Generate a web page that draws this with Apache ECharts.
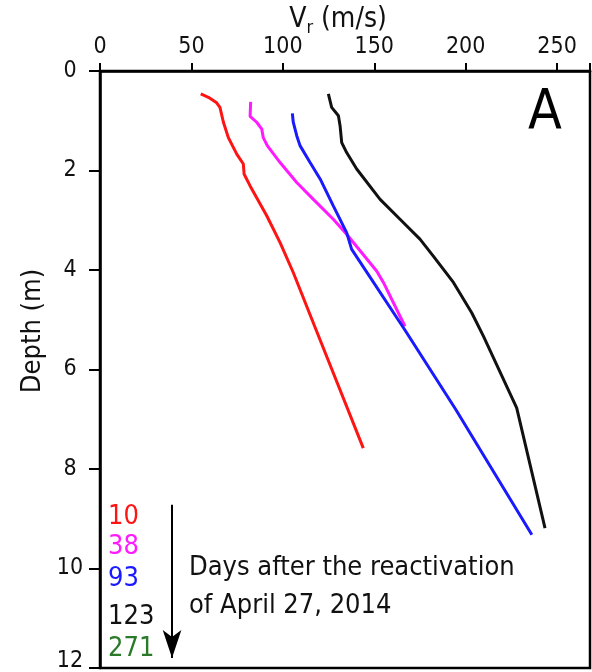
<!DOCTYPE html>
<html>
<head>
<meta charset="utf-8">
<script src="https://cdn.jsdelivr.net/npm/echarts@6/dist/echarts.min.js"></script>
<style>
html,body{margin:0;padding:0;background:#fff;}
#c{width:592px;height:672px;}
</style>
</head>
<body>
<div id="c"></div>
<script>
// Data: [velocity (m/s), depth (m)]
var red10 = [[55.1,0.46],[59.3,0.53],[63.8,0.64],[65.6,0.73],[67.5,1.03],[70.2,1.34],[74.8,1.67],[78.4,1.87],[78.8,2.07],[82.1,2.31],[91.2,2.91],[98.5,3.45],[105.7,4.05],[117.4,5.13],[144,7.58]];
var magenta38 = [[82.4,0.62],[82.1,0.91],[85.7,1.03],[88.5,1.17],[89.3,1.34],[91.5,1.50],[98.5,1.84],[107.6,2.24],[116.7,2.58],[127.6,2.98],[134.9,3.28],[151.3,4.02],[155,4.25],[166.8,5.13]];
var blue93 = [[105.2,0.85],[105.7,1.03],[107.6,1.30],[109.4,1.50],[114.9,1.84],[120.4,2.17],[127.6,2.71],[134.9,3.25],[137.6,3.58],[166.5,5.19],[194.5,6.80],[236.2,9.32]];
var black123 = [[124.9,0.46],[126.7,0.73],[130.4,0.90],[131.3,1.10],[132.2,1.44],[134.9,1.64],[140.4,1.97],[153.2,2.58],[164.1,2.98],[175,3.38],[182.3,3.72],[193.3,4.25],[203.3,4.86],[209.7,5.33],[227.9,6.77],[243.4,9.19]];
var xTicks = [0,50,100,150,200,250];
var yTicks = [0,2,4,6,8,10,12];
var legendDays = ['10','38','93','123','271'];
var legendColors = ['#ff1414','#ff1aff','#1a1aff','#111111','#2a7a2a'];
var arrowLine = [[39.4,8.72],[39.4,11.8]];
var annotation = ['Days after the reactivation','of April 27, 2014'];

var FONT = 'DejaVu Sans Condensed';
var chart = echarts.init(document.getElementById('c'));

function lineSeries(data, color){
  return {type:'line', data:data, showSymbol:false, symbol:'none', smooth:false,
    lineStyle:{color:color, width:3}, itemStyle:{color:color}, z:3, silent:true, animation:false};
}

var legendGraphics = legendDays.map(function(t,i){
  var ys = [517,547,579,617,649];
  return {type:'text', x:108, y:ys[i], style:{text:t, fill:legendColors[i], font:'27px "'+FONT+'"', textVerticalAlign:'middle'}};
});

var option = {
  animation:false,
  backgroundColor:'#fff',
  grid:{left:100, top:71, right:2, bottom:4, show:true, borderColor:'#000', borderWidth:2.5, containLabel:false, outerBoundsMode:'none'},
  xAxis:{type:'value', position:'top', min:0, max:268, interval:50,
    axisLine:{show:true, lineStyle:{color:'#000', width:2.5}},
    axisTick:{show:true, inside:false, length:8, lineStyle:{color:'#000', width:2}},
    axisLabel:{show:true, margin:12, fontSize:23, fontFamily:FONT, color:'#111',
      formatter:function(v){ return xTicks.indexOf(v) >= 0 ? String(v) : ''; }},
    splitLine:{show:false}},
  yAxis:{type:'value', inverse:true, min:0, max:12, interval:2,
    axisLine:{show:true, lineStyle:{color:'#000', width:2.5}},
    axisTick:{show:true, inside:false, length:11, lineStyle:{color:'#000', width:2}},
    axisLabel:{show:true, margin:30, align:'center', fontSize:23, fontFamily:FONT, color:'#111',
      formatter:function(v){
        if (yTicks.indexOf(v) < 0) return '';
        return v === yTicks[yTicks.length-1] ? '{up|' + v + '}' : String(v);
      },
      rich:{up:{fontSize:23, fontFamily:FONT, color:'#111', padding:[0,0,14,0]}}},
    splitLine:{show:false}},
  series:[
    lineSeries(red10, '#ff1414'),
    lineSeries(magenta38, '#ff1aff'),
    lineSeries(blue93, '#1a1aff'),
    lineSeries(black123, '#111111'),
    {type:'line', data:arrowLine, symbol:'none', lineStyle:{width:0}, silent:true,
      markLine:{silent:true, symbol:['none','arrow'], symbolSize:[14,28], label:{show:false},
        lineStyle:{color:'#000', width:2, type:'solid'},
        data:[[{coord:arrowLine[0]},{coord:arrowLine[1]}]]}}
  ],
  graphic:[
    {type:'text', x:338, y:20, style:{text:'{v|V}{s|r}{v| (m/s)}', align:'center', verticalAlign:'middle',
      rich:{v:{fontSize:28, fontFamily:FONT, fill:'#111', color:'#111'}, s:{fontSize:18, fontFamily:FONT, fill:'#111', color:'#111', verticalAlign:'bottom', padding:[16,0,0,0]}}}},
    {type:'text', x:33, y:331, rotation:Math.PI/2, style:{text:'Depth (m)', fill:'#111', font:'27px "'+FONT+'"', textAlign:'center', textVerticalAlign:'middle'}},
    {type:'text', x:545, y:114, style:{text:'A', fill:'#000', font:'55px "'+FONT+'"', textAlign:'center', textVerticalAlign:'middle'}},
    {type:'text', x:189, y:568, style:{text:annotation[0], fill:'#111', font:'27px "'+FONT+'"', textVerticalAlign:'middle'}},
    {type:'text', x:189, y:606, style:{text:annotation[1], fill:'#111', font:'27px "'+FONT+'"', textVerticalAlign:'middle'}}
  ].concat(legendGraphics)
};
chart.setOption(option);
</script>
</body>
</html>
